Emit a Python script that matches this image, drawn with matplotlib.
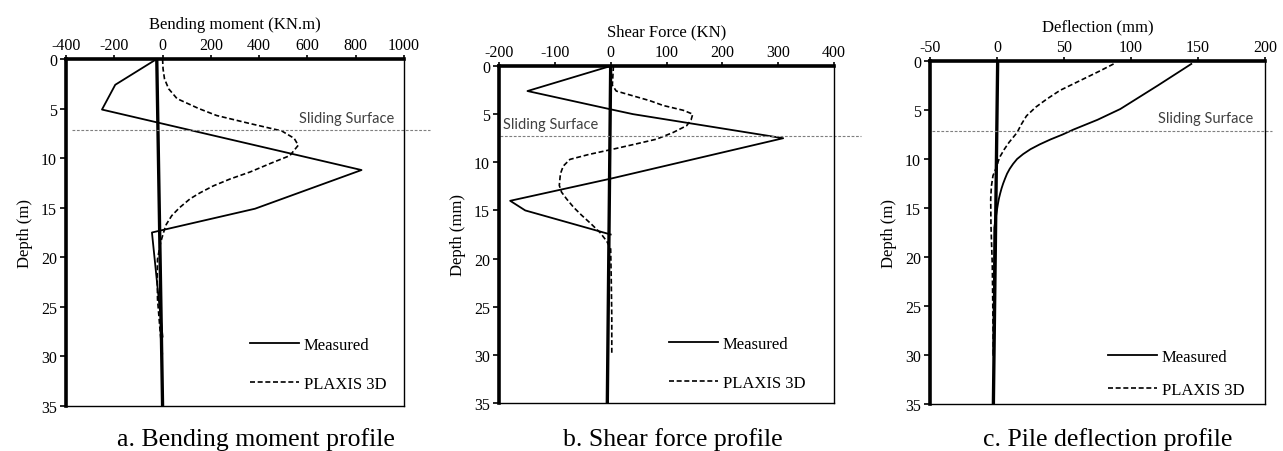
import numpy as np
import matplotlib
matplotlib.use('Agg')
import matplotlib.pyplot as plt

plt.rcParams['font.family'] = ['Liberation Serif', 'DejaVu Serif']
plt.rcParams['axes.unicode_minus'] = False

# a. bending moment (KN.m) vs depth (m)
bm_meas_depth = [0, 2.6, 5.1, 11.2, 15.1, 17.5, 28.0]
bm_meas = [-24, -196, -251, 824, 383, -44, 0]
bm_plx_depth = [0, 1.0, 2.0, 3.0, 4.0, 5.0, 5.7, 6.5, 7.25, 8.0, 8.7, 9.75, 10.5, 11.4, 12.1, 12.8, 13.5, 14.1, 15.0, 15.8, 16.7, 17.5, 18.5, 20.2, 22.0, 24.2, 26.0, 27.5, 30.0]
bm_plx = [0, 2, 8, 25, 60, 150, 224, 360, 493, 545, 562, 527, 450, 362, 280, 210, 155, 114, 70, 38, 15, 4, -8, -21, -22, -21, -15, -10, 0]
bm_pile_depth = [0, 35]
bm_pile = [-24, 0]

# b. shear force (KN) vs depth
sf_meas_depth = [0, 2.6, 4.5, 5.0, 7.5, 11.7, 14.0, 15.0, 17.5]
sf_meas = [0, -149, 0, 40, 309, 0, -180, -153, 0]
sf_plx_depth = [0, 1.0, 2.0, 2.6, 3.1, 3.6, 4.1, 4.6, 5.0, 5.6, 6.2, 6.9, 7.6, 8.1, 8.6, 9.2, 9.7, 10.4, 11.2, 12.4, 13.1, 13.8, 14.7, 15.5, 16.4, 17.3, 18.2, 19.0, 22.0, 26.0, 30.0]
sf_plx = [5, 4, 3, 10, 40, 70, 94, 130, 147, 144, 136, 112, 82, 45, 7, -40, -73, -85, -90, -92, -88, -79, -66, -52, -35, -19, -7, 0, 1, 2, 2]
sf_pile_depth = [0, 35]
sf_pile = [0, -6]

# c. deflection (mm) vs depth
df_meas_depth = [0.3, 2.5, 4.9, 6.0, 7.0, 7.5, 8.0, 8.5, 9.0, 9.5, 10.0, 10.5, 11.0, 11.5, 12.0, 12.5, 13.0, 13.5, 14.0, 14.5, 15.0, 17.0, 30.0]
df_meas = [145, 120, 92, 75, 57, 49, 40, 32, 25, 19.5, 15, 12, 9.5, 7.5, 6, 4.6, 3.4, 2.4, 1.5, 0.8, 0.2, -2, -2.7]
df_plx_depth = [0.3, 1.0, 2.2, 3.0, 3.9, 4.7, 5.6, 6.5, 7.3, 8.3, 9.0, 9.7, 10.2, 10.7, 11.2, 11.7, 12.8, 14.1, 16.8, 20.9, 30.0]
df_plx = [87, 77, 59, 47, 37, 29, 22, 18, 15, 9, 5.5, 2.5, 1, 0, -1.5, -3, -4.2, -4.7, -4.5, -3.5, -2.7]
df_pile_depth = [0, 35]
df_pile = [0.5, -2.7]

sliding_depth = [7.2, 7.3, 7.1]

W, H = 1283, 452
fig = plt.figure(figsize=(W / 100, H / 100), dpi=100)


def px_axes(left, right, top, bottom):
    return fig.add_axes([left / W, 1 - bottom / H, (right - left) / W, (bottom - top) / H])


panels = [
    dict(box=(66, 404, 60, 407), meas=(bm_meas, bm_meas_depth), plx=(bm_plx, bm_plx_depth),
         pile=(bm_pile, bm_pile_depth), xlim=(-400, 1000), xt=np.arange(-400, 1001, 200),
         xlabel='Bending moment (KN.m)', ylabel='Depth (m)', slide=sliding_depth[0],
         slide_x=(0.018, 1.076), slide_txt=0.69, leg=(0.545, 0.2), lsp=1.4,
         caption='a. Bending moment profile', cap_x=256),
    dict(box=(499, 834, 67, 404), meas=(sf_meas, sf_meas_depth), plx=(sf_plx, sf_plx_depth),
         pile=(sf_pile, sf_pile_depth), xlim=(-200, 400), xt=np.arange(-200, 401, 100),
         xlabel='Shear Force (KN)', ylabel='Depth (mm)', slide=sliding_depth[1],
         slide_x=(0.003, 1.08), slide_txt=0.012, leg=(0.508, 0.2), lsp=1.4,
         caption='b. Shear force profile', cap_x=673),
    dict(box=(930, 1265, 62, 405), meas=(df_meas, df_meas_depth), plx=(df_plx, df_plx_depth),
         pile=(df_pile, df_pile_depth), xlim=(-50, 200), xt=np.arange(-50, 201, 50),
         xlabel='Deflection (mm)', ylabel='Depth (m)', slide=sliding_depth[2],
         slide_x=(0.005, 1.02), slide_txt=0.68, leg=(0.532, 0.16), lsp=1.0,
         caption='c. Pile deflection profile', cap_x=1108),
]

for p in panels:
    ax = px_axes(*p['box'])
    ax.plot(p['pile'][0], p['pile'][1], color='black', lw=2.4, solid_capstyle='butt')
    ax.plot(p['meas'][0], p['meas'][1], color='black', lw=1.3, label='Measured')
    ax.plot(p['plx'][0], p['plx'][1], color='black', lw=1.2, ls=(0, (3, 1.6)), label='PLAXIS 3D')
    ax.plot(p['slide_x'], [p['slide'], p['slide']], color='#7f7f7f', lw=0.8,
            ls=(0, (2.5, 1.5)), transform=ax.get_yaxis_transform(), clip_on=False)
    ax.text(p['slide_txt'], p['slide'] - 0.55, 'Sliding Surface', family='Lato',
            fontsize=10.5, color='#404040', ha='left', va='bottom',
            transform=ax.get_yaxis_transform())

    ax.set_xlim(*p['xlim'])
    ax.set_ylim(35, 0)
    ax.set_xticks(p['xt'])
    ax.set_yticks(np.arange(0, 36, 5))
    ax.xaxis.tick_top()
    ax.xaxis.set_label_position('top')
    ax.set_xlabel(p['xlabel'], fontsize=12, labelpad=6)
    ax.set_ylabel(p['ylabel'], fontsize=12, labelpad=6)
    ax.tick_params(direction='out', length=4, width=1.2, labelsize=11.5, pad=2.5)
    ax.tick_params(axis='x', length=3, pad=1.5)
    ax.spines['top'].set_linewidth(2.6)
    ax.spines['left'].set_linewidth(2.6)
    ax.spines['right'].set_linewidth(1.0)
    ax.spines['bottom'].set_linewidth(1.0)

    ax.legend(loc='upper left', bbox_to_anchor=p['leg'], frameon=False, fontsize=12,
              handlelength=2.9, handletextpad=0.3, labelspacing=p['lsp'], borderpad=0,
              borderaxespad=0)

    fig.text(p['cap_x'] / W, 1 - 440 / H, p['caption'], fontsize=18.5, ha='center', va='center')

fig.savefig('out.png', dpi=100)
